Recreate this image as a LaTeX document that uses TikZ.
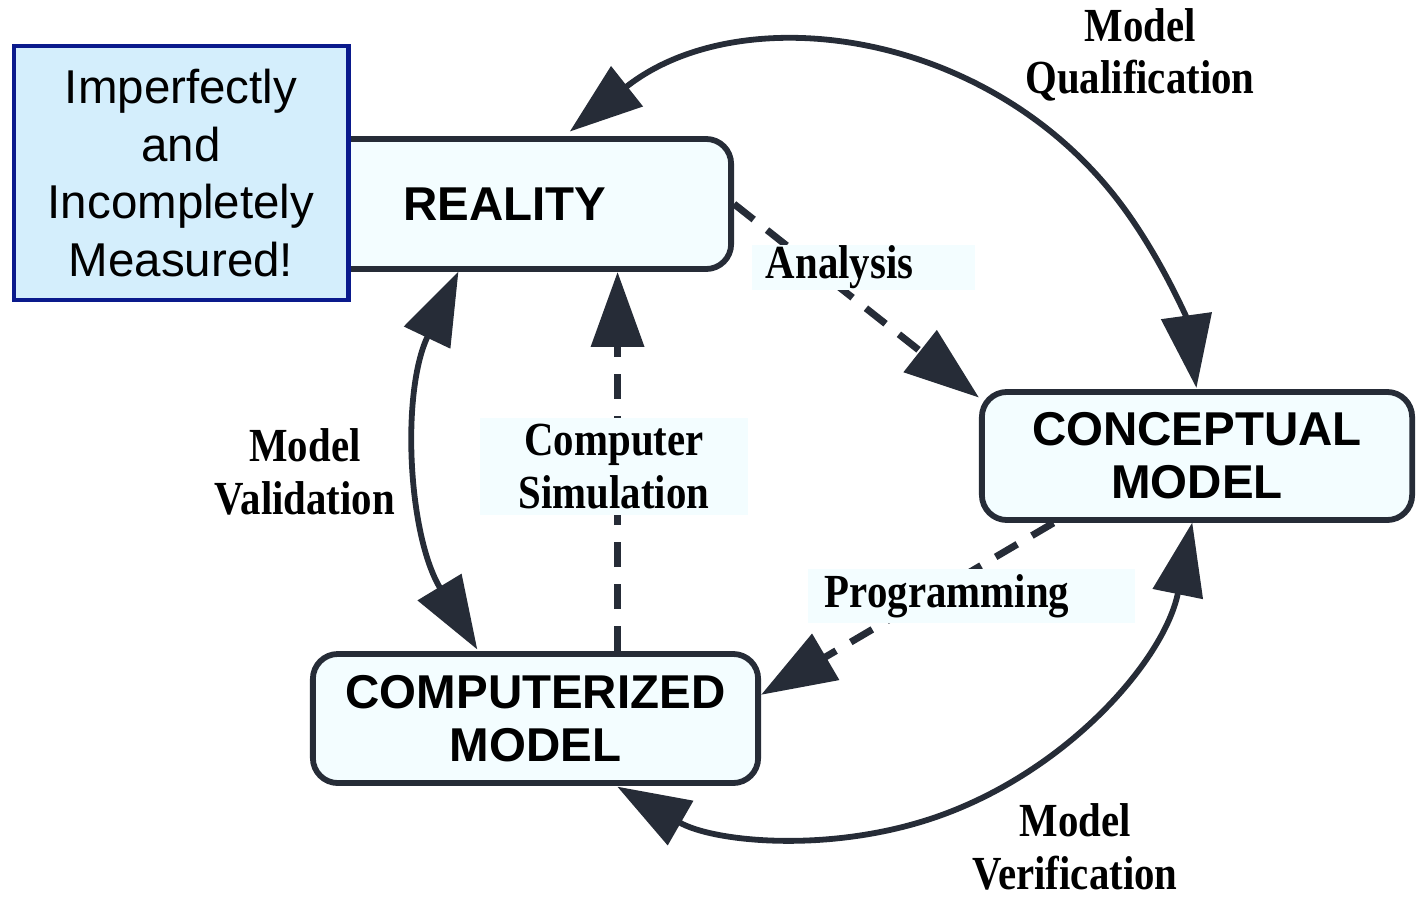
\documentclass[tikz,border=0pt]{standalone}
\usepackage{fontspec}
\setmainfont{Liberation Serif}
\newfontfamily\stagefont{Liberation Sans}
\newfontfamily\arcfont{Liberation Serif}[FakeStretch=0.86]
\usepackage{tikz}
\usetikzlibrary{arrows.meta}
\definecolor{inkdark}{HTML}{262C37}
\definecolor{boxfill}{HTML}{F3FDFF}
\definecolor{notefill}{HTML}{D4EEFC}
\definecolor{noteedge}{HTML}{0A1A8C}
\tikzstyle{stagebox} = [draw=inkdark, fill=boxfill, line width=0.058cm,
    rectangle, rounded corners=0.25cm, inner sep=0pt, align=center,
    font=\stagefont\fontsize{13.5}{15}\selectfont\bfseries]
\tikzstyle{notebox} = [draw=noteedge, fill=notefill, line width=0.048cm,
    rectangle, inner sep=0pt, align=center,
    font=\stagefont\fontsize{13.5}{16.4}\selectfont]
\tikzstyle{arclabel} = [inner sep=0pt, align=center,
    font=\arcfont\fontsize{13.5}{15}\selectfont\bfseries]
\tikzstyle{flowlabel} = [arclabel, fill=boxfill]
\tikzstyle{cyclearrow} = [draw=inkdark, line width=0.058cm,
    {Triangle[length=0.73cm,width=0.5cm]}-{Triangle[length=0.73cm,width=0.5cm]}]
\tikzstyle{flowarrow} = [draw=inkdark, line width=0.07cm,
    dash pattern=on 0.25cm off 0.17cm, -{Triangle[length=0.75cm,width=0.52cm]}]

\begin{document}
\begin{tikzpicture}[x=0.01cm, y=0.01cm]
    \useasboundingbox (0,0) rectangle (1416,-897);
    % the three stages
    \node[stagebox, minimum width=4.52cm, minimum height=1.3cm] (reality) at (505,-204) {REALITY};
    \node[stagebox, minimum width=4.3cm, minimum height=1.28cm] (concept) at (1197,-456) {CONCEPTUAL\\MODEL};
    \node[stagebox, minimum width=4.45cm, minimum height=1.29cm] (comp) at (535.5,-718.5) {COMPUTERIZED\\MODEL};
    \node[notebox, minimum width=3.34cm, minimum height=2.54cm] (measured) at (181,-173) {Imperfectly\\and\\Incompletely\\Measured!};

    % outer cycle
    \coordinate (hub) at (810,-443);
    \coordinate (qualA) at ([shift={(128:3.9cm and 3.95cm)}]hub);
    \coordinate (verA) at ([shift={(-11.6:3.9cm and 3.95cm)}]hub);
    \coordinate (valA) at ([shift={(154.3:3.9cm and 3.95cm)}]hub);
    \draw[cyclearrow] (qualA) arc[start angle=128, end angle=8, x radius=3.9cm, y radius=3.95cm];
    \draw[cyclearrow] (verA) arc[start angle=-11.6, end angle=-119.6, x radius=3.9cm, y radius=3.95cm];
    \draw[cyclearrow] (valA) arc[start angle=154.3, end angle=211.5, x radius=3.9cm, y radius=3.95cm];

    % inner flow
    \coordinate (simfoot) at ([xshift=0.82cm]comp.north);
    \draw[flowarrow] (reality.east) -- (concept.165);
    \draw[flowarrow] (concept.205) -- (comp.6);
    \draw[flowarrow] (simfoot) -- (simfoot |- reality.south);

    % labels
    \node[arclabel] (qualtext) at (1140,-55) {Model\\Qualification};
    \node[arclabel] (valtext) at (305,-472) {Model\\Validation};
    \node[arclabel] (vertext) at (1075,-847) {Model\\Verification};
    \node[flowlabel, minimum width=2.67cm, minimum height=0.97cm] (simtext) at (614,-466.5) {Computer\\Simulation};
    \node[flowlabel, text width=1.95cm, inner xsep=0.14cm, minimum height=0.45cm, align=left] (antext) at (863.5,-267.5) {Analysis};
    \node[flowlabel, text width=2.93cm, inner xsep=0.17cm, minimum height=0.53cm, align=left] (progtext) at (971.5,-596) {Programming};
\end{tikzpicture}
\end{document}
